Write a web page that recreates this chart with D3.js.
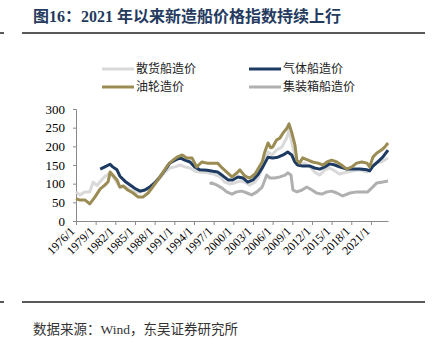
<!DOCTYPE html>
<html><head><meta charset="utf-8">
<script src="https://cdn.jsdelivr.net/npm/d3@7"></script>
<style>
html,body{margin:0;padding:0;background:#fff;}
svg{display:block;}
</style></head>
<body>
<svg id="c" width="432" height="344"></svg>
<script>
// ---- data (year, index value) ----
const xTickLabels = ["1976/1","1979/1","1982/1","1985/1","1988/1","1991/1","1994/1","1997/1","2000/1","2003/1","2006/1","2009/1","2012/1","2015/1","2018/1","2021/1"];
const yTicks = [0,50,100,150,200,250,300];
const seriesNames = ["散货船造价","气体船造价","油轮造价","集装箱船造价"];

const bulkSeries = [[1976.0,78],[1976.6,70],[1977.4,78],[1978.1,78],[1978.6,104],[1979.2,95],[1980.0,112],[1980.6,122],[1981.2,128],[1981.9,112],[1982.7,90],[1983.5,92],[1984.2,83],[1985.0,78],[1985.8,78],[1986.5,83],[1987.3,88],[1988.0,102],[1988.8,115],[1989.6,131],[1990.3,142],[1991.1,145],[1991.9,150],[1992.6,145],[1993.4,142],[1994.1,134],[1994.9,131],[1996.0,129],[1996.9,126],[1998.0,118],[1998.7,104],[1999.5,99],[2000.2,102],[2001.0,107],[2001.8,104],[2002.5,96],[2003.3,104],[2004.0,123],[2004.8,158],[2005.3,185],[2005.9,177],[2006.6,190],[2007.4,198],[2008.2,225],[2008.5,245],[2009.1,196],[2009.7,158],[2010.1,150],[2010.9,155],[2011.7,145],[2012.4,131],[2013.2,123],[2013.96,137],[2014.7,142],[2015.5,134],[2016.2,126],[2017.3,131],[2018.2,134],[2019.3,137],[2020.4,131],[2021.1,145],[2021.9,158],[2022.6,158],[2023.6,169]];

const gasSeries = [[1979.7,139],[1980.4,145],[1981.2,152],[1981.6,145],[1982.25,137],[1982.7,120],[1983.5,106],[1984.2,97],[1985.0,87],[1985.8,80],[1986.5,83],[1987.3,92],[1988.0,102],[1988.8,118],[1989.6,137],[1990.3,155],[1991.1,163],[1991.9,169],[1992.6,163],[1993.4,158],[1994.1,145],[1994.9,137],[1996.0,136],[1996.9,133],[1997.6,131],[1998.4,121],[1999.2,110],[1999.9,110],[2000.7,118],[2001.5,115],[2002.2,104],[2003.0,110],[2003.7,123],[2004.5,145],[2005.3,171],[2006.0,169],[2006.8,171],[2007.6,177],[2008.3,185],[2008.9,177],[2009.4,158],[2009.8,150],[2010.6,147],[2011.7,147],[2012.4,142],[2013.2,139],[2013.96,145],[2014.7,153],[2015.5,150],[2016.2,145],[2017.3,139],[2018.2,139],[2019.3,139],[2020.4,137],[2020.8,134],[2021.3,147],[2022.0,158],[2022.8,171],[2023.6,190]];

const oilSeries = [[1976.0,60],[1976.6,56],[1977.4,56],[1978.1,46],[1978.8,62],[1979.7,86],[1980.4,96],[1980.9,105],[1981.2,131],[1981.6,123],[1982.25,110],[1982.7,91],[1983.2,94],[1983.9,83],[1984.7,75],[1985.5,64],[1986.2,64],[1987.0,75],[1987.7,91],[1988.5,110],[1989.3,131],[1990.0,150],[1990.8,163],[1991.5,172],[1992.2,177],[1992.9,169],[1993.7,169],[1994.4,145],[1995.2,158],[1996.0,155],[1996.9,155],[1997.6,155],[1998.3,142],[1999.0,131],[1999.8,118],[2000.5,128],[2001.0,137],[2001.8,120],[2002.5,115],[2003.3,126],[2003.7,137],[2004.4,158],[2004.8,185],[2005.3,209],[2005.7,196],[2006.0,198],[2006.6,217],[2007.1,222],[2007.6,236],[2008.2,249],[2008.5,260],[2008.9,238],[2009.4,204],[2009.7,163],[2010.1,155],[2010.6,169],[2011.4,163],[2012.1,158],[2012.9,155],[2013.7,150],[2014.3,158],[2015.0,163],[2015.8,158],[2016.5,150],[2017.3,139],[2018.1,145],[2018.8,155],[2019.6,158],[2020.4,155],[2020.8,145],[2021.3,171],[2021.9,182],[2022.6,190],[2023.1,198],[2023.6,209]];

const containerSeries = [[1996.4,99],[1996.7,102],[1997.5,96],[1998.3,88],[1999.0,78],[1999.8,72],[2000.5,78],[2001.3,80],[2002.1,75],[2002.8,70],[2003.6,78],[2004.4,91],[2005.1,123],[2005.6,115],[2006.3,115],[2007.1,118],[2007.9,123],[2008.3,129],[2008.8,123],[2009.1,83],[2009.7,78],[2010.5,83],[2011.2,91],[2012.0,83],[2012.7,75],[2013.5,72],[2014.3,78],[2015.0,80],[2015.8,75],[2016.7,67],[2017.8,75],[2018.8,78],[2019.8,78],[2020.5,78],[2021.1,88],[2021.9,102],[2022.6,104],[2023.6,107]];

const colors = {bulk:"#d9d9d9", gas:"#1d3a62", oil:"#9a8c53", container:"#b0b0b0"};

// ---- drawing ----
const svg = d3.select("#c");
const serif = "'Liberation Serif','Times New Roman','Noto Sans CJK SC',serif";
const cjk = "'Liberation Serif','Noto Sans CJK SC',serif";

// title
svg.append("text").attr("x",33).attr("y",22)
  .attr("font-family",cjk).attr("font-weight","bold").attr("font-size",16)
  .attr("fill","#243a5e").text("图16：2021 年以来新造船价格指数持续上行");
// rules
[[33],[302]].forEach(([y])=>{
  svg.append("line").attr("x1",22).attr("x2",425).attr("y1",y).attr("y2",y).attr("stroke","#222").attr("stroke-width",1.5);
  svg.append("line").attr("x1",0).attr("x2",4).attr("y1",y).attr("y2",y).attr("stroke","#222").attr("stroke-width",1.5);
});
// source
svg.append("text").attr("x",33).attr("y",334)
  .attr("font-family",cjk).attr("font-size",13.5).attr("fill","#333")
  .text("数据来源：Wind，东吴证券研究所");

const x = d3.scaleLinear().domain([1976, 2023.6]).range([76, 388]);
const y = d3.scaleLinear().domain([0, 300]).range([221, 109]);

// axes
const yAxis = d3.axisLeft(y).tickValues(yTicks).tickSize(3).tickPadding(8);
const gy = svg.append("g").attr("transform","translate(76,0)").call(yAxis);
gy.selectAll("text").attr("font-family",serif).attr("font-size",13).attr("fill","#000");
gy.selectAll("line,path").attr("stroke","#8a8a8a");

const tickYears = xTickLabels.map(s=>+s.split("/")[0]);
const xAxis = d3.axisBottom(x).tickValues(tickYears).tickSize(4).tickSizeOuter(0)
  .tickFormat((d,i)=>xTickLabels[i]);
const gx = svg.append("g").attr("transform","translate(0,221)").call(xAxis);
gx.selectAll("line,path").attr("stroke","#8a8a8a");
gx.selectAll("text").attr("font-family",serif).attr("font-size",12).attr("fill","#000")
  .attr("text-anchor","end").attr("dy",0).attr("y",0)
  .attr("transform","translate(-1,11) rotate(-45)");

// lines
const line = d3.line().x(d=>x(d[0])).y(d=>y(d[1])).curve(d3.curveLinear);
const plotSeries = [
  {data:bulkSeries, color:colors.bulk},
  {data:containerSeries, color:colors.container},
  {data:gasSeries, color:colors.gas},
  {data:oilSeries, color:colors.oil}
];
plotSeries.forEach(s=>{
  svg.append("path").datum(s.data).attr("d",line).attr("fill","none")
    .attr("stroke",s.color).attr("stroke-width",3).attr("stroke-linejoin","round");
});

// legend
const legend = [
  {name:seriesNames[0], color:colors.bulk, x:102, y:69},
  {name:seriesNames[1], color:colors.gas, x:249, y:69},
  {name:seriesNames[2], color:colors.oil, x:102, y:87},
  {name:seriesNames[3], color:colors.container, x:249, y:87}
];
legend.forEach(l=>{
  svg.append("line").attr("x1",l.x).attr("x2",l.x+32).attr("y1",l.y).attr("y2",l.y)
    .attr("stroke",l.color).attr("stroke-width",3);
  svg.append("text").attr("x",l.x+34).attr("y",l.y).attr("dy","0.35em")
    .attr("font-family",cjk).attr("font-size",12).attr("fill","#222").text(l.name);
});
</script>
</body></html>
